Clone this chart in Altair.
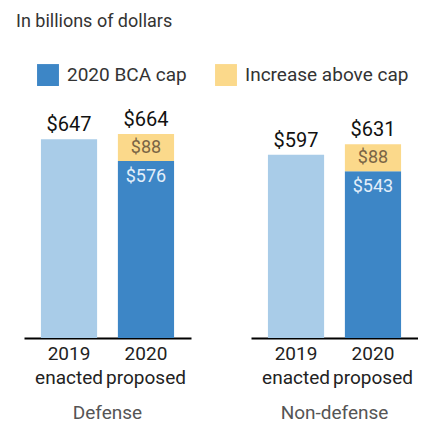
import altair as alt
import pandas as pd

groups = ["Defense", "Non-defense"]
year_labels = ["2019|enacted", "2020|proposed"]
enacted_2019 = [647, 597]
bca_cap_2020 = [576, 543]
increase_2020 = [88, 88]

seg_names = ["2019 enacted", "2020 BCA cap", "Increase above cap"]
seg_colors = ["#a9cce8", "#3d86c6", "#fbd98b"]

rows = []
for i, g in enumerate(groups):
    rows.append(dict(group=g, year=year_labels[0], segment=seg_names[0], start=0,
                     end=enacted_2019[i], top=True, total=f"${enacted_2019[i]}", seg=""))
    rows.append(dict(group=g, year=year_labels[1], segment=seg_names[1], start=0,
                     end=bca_cap_2020[i], top=False, total="", seg=f"${bca_cap_2020[i]}"))
    tot = bca_cap_2020[i] + increase_2020[i]
    rows.append(dict(group=g, year=year_labels[1], segment=seg_names[2], start=bca_cap_2020[i],
                     end=tot, top=True, total=f"${tot}", seg=f"${increase_2020[i]}"))
df = pd.DataFrame(rows)
df["mid"] = (df["start"] + df["end"]) / 2

FONT = "Roboto"

x = alt.X("year:N", sort=year_labels, title=None,
          scale=alt.Scale(paddingInner=0.27, paddingOuter=0.22),
          axis=alt.Axis(labelExpr="split(datum.label, '|')", labelAngle=0, ticks=False,
                        domain=True, domainColor="#000000", domainWidth=2, domainOpacity=1,
                        labelFontSize=19,
                        labelColor="#222", labelPadding=6, labelLineHeight=24,
                        labelFont=FONT, grid=False, zindex=2))
yscale = alt.Scale(domain=[0, 700])

bars = alt.Chart().mark_bar().encode(
    x=x,
    y=alt.Y("start:Q", scale=yscale, axis=None, title=None),
    y2="end:Q",
    color=alt.Color("segment:N", scale=alt.Scale(domain=seg_names, range=seg_colors),
                    legend=alt.Legend(values=seg_names[1:], title=None, orient="none",
                                      legendX=13, legendY=-59, direction="horizontal",
                                      symbolType="square", symbolSize=480,
                                      symbolStrokeWidth=0, labelFontSize=19,
                                      labelColor="#333", labelFont=FONT, labelLimit=300,
                                      columnPadding=28, labelOffset=8)),
)

totals = alt.Chart().mark_text(baseline="alphabetic", dy=-8, fontSize=20,
                               color="#111", font=FONT).encode(
    x=x, y=alt.Y("end:Q", scale=yscale), text="total:N"
).transform_filter("datum.top")

inc = alt.Chart().mark_text(baseline="middle", fontSize=18, color="#7a6545",
                            font=FONT).encode(
    x=x, y=alt.Y("mid:Q", scale=yscale), text="seg:N"
).transform_filter("datum.segment == 'Increase above cap'")

cap = alt.Chart().mark_text(baseline="top", dy=7, fontSize=18, color="#e3effa",
                            font=FONT).encode(
    x=x, y=alt.Y("end:Q", scale=yscale), text="seg:N"
).transform_filter("datum.segment == '2020 BCA cap'")

chart = alt.layer(bars, totals, inc, cap, data=df).properties(
    width=167, height=215
).facet(
    column=alt.Column("group:N", title=None,
                      header=alt.Header(labelOrient="bottom", labelFontSize=19,
                                        labelColor="#555", labelFont=FONT,
                                        labelPadding=17)),
    spacing=60,
).properties(
    title=alt.TitleParams("In billions of dollars", anchor="start", fontSize=18,
                          fontWeight="normal", color="#333", font=FONT, offset=33, dx=-8),
    padding={"left": 8, "top": 5, "right": 0, "bottom": 5},
).configure_view(stroke=None)

chart.save("out.html", embed_options={"renderer": "svg", "actions": False})
